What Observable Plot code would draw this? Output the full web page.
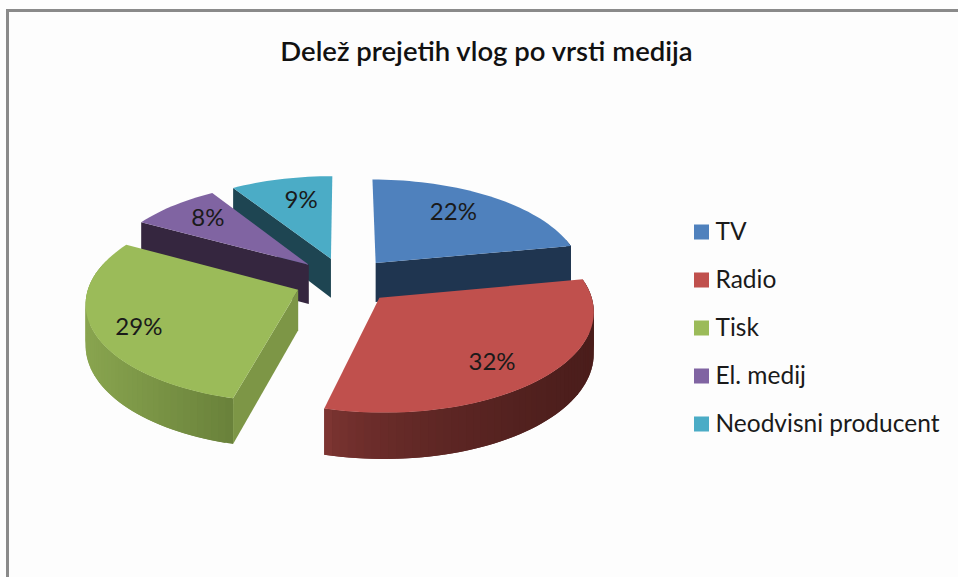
<!DOCTYPE html>
<html><head><meta charset="utf-8">
<script src="https://cdn.jsdelivr.net/npm/d3@7"></script>
<script src="https://cdn.jsdelivr.net/npm/@observablehq/plot@0.6"></script>
<style>
html,body{margin:0;padding:0;background:#fdfdfd;overflow:hidden}
svg{display:block}
</style></head><body><div id="chart"></div>
<script>
const titleText = "Delež prejetih vlog po vrsti medija";
const categories = ["TV", "Radio", "Tisk", "El. medij", "Neodvisni producent"];
const shares = [22, 32, 29, 8, 9];
const topColors = ["#4f81bd", "#c0504d", "#9bbb59", "#8064a2", "#4bacc6"];
const wallColors = ["#1f3550", "#4a1d1b", "#7d9646", "#35263f", "#1e4552"];
const rimLeft = ["#1f3550", "#7d3532", "#89a54f", "#35263f", "#1e4552"];
const rimRight = ["#1f3550", "#4a1d1b", "#6a823b", "#35263f", "#1e4552"];
const drawOrder = [4, 3, 0, 2, 1];

// view of the tilted, exploded pie
const view = {cx: 344, cy: 280, rx: 208, ry: 97, persp: 0.117, explode: 0.24, depth: 40};
const labelView = {reach: 0.7, nudgeX: [-6, 2, -18, -4, 6], nudgeY: [-3, 10, 9, -4, -1]};
const project = (X, Z, drop = 0) => {
  const k = 1 / (1 + view.persp * Z);
  return {x: view.cx + view.rx * X * k, y: view.cy - view.ry * Z * k + drop * k};
};

const total = d3.sum(shares);
let run = 0;
const slices = shares.map((v, i) => {
  const a0 = run / total * 2 * Math.PI; run += v;
  const a1 = run / total * 2 * Math.PI;
  const mid = (a0 + a1) / 2;
  return {i, a0, a1, mid, ax: view.explode * Math.sin(mid), az: view.explode * Math.cos(mid)};
});

const polys = []; let pid = 0;
const addPoly = (pts, fill) => { const id = pid++; pts.forEach(p => polys.push({id, x: p.x, y: p.y, fill})); };
for (const oi of drawOrder) {
  const s = slices[oi];
  const n = Math.max(8, Math.round((s.a1 - s.a0) * 30));
  const ang = d3.range(n + 1).map(j => s.a0 + (s.a1 - s.a0) * j / n);
  const rimAt = (a, d = 0) => project(s.ax + Math.sin(a), s.az + Math.cos(a), d);
  const apex = d => project(s.ax, s.az, d);
  // outer wall (front part only), shaded left to right across the slice
  const front = d3.range(n).filter(j => Math.cos(ang[j]) < 0.25 || Math.cos(ang[j + 1]) < 0.25);
  const xs = front.map(j => rimAt(ang[j]).x);
  const [xa, xb] = xs.length ? d3.extent(xs) : [0, 1];
  const shade = d3.interpolateRgb(rimLeft[oi], rimRight[oi]);
  // strips overlap their neighbour so no seams show
  for (const j of front) {
    const t = Math.min(1, Math.max(0, (rimAt(ang[j]).x - xa) / (xb - xa)));
    const k = Math.min(n, j + 2);
    addPoly([rimAt(ang[j]), rimAt(ang[k]), rimAt(ang[k], view.depth), rimAt(ang[j], view.depth)],
      shade(oi === 1 ? Math.pow(t, 0.6) : t));
  }
  // cut walls, only the ones that face the viewer
  if (Math.sin(s.a0) < -1e-6) addPoly([apex(0), rimAt(s.a0), rimAt(s.a0, view.depth), apex(view.depth)], wallColors[oi]);
  if (Math.sin(s.a1) > 1e-6) addPoly([apex(0), rimAt(s.a1), rimAt(s.a1, view.depth), apex(view.depth)], wallColors[oi]);
  // top face
  addPoly([apex(0), ...ang.map(a => rimAt(a))], topColors[oi]);
}

const pctLabels = slices.map(s => {
  const r = view.explode + labelView.reach;
  const p = project(r * Math.sin(s.mid), r * Math.cos(s.mid));
  return {x: p.x + labelView.nudgeX[s.i], y: p.y + labelView.nudgeY[s.i], text: shares[s.i] + "%"};
});
const legendRows = categories.map((c, i) => ({c, i, fill: topColors[i], y: 232 + i * 48}));
const font = "Lato, 'Open Sans', sans-serif";

const chart = Plot.plot({
  width: 958, height: 577, margin: 0,
  style: {background: "transparent", fontFamily: font},
  x: {domain: [0, 958], range: [0, 958], axis: null},
  y: {domain: [0, 577], range: [0, 577], axis: null},
  color: {type: "identity"},
  marks: [
    Plot.ruleY([10], {x1: 6, x2: 958, stroke: "#8a8a8a", strokeWidth: 3}),
    Plot.ruleX([7], {y1: 9, y2: 577, stroke: "#8a8a8a", strokeWidth: 3}),
    Plot.text([titleText], {x: [486], y: [52], text: d => d, fontSize: 27.5, fontWeight: 600, fill: "#111"}),
    Plot.line(polys, {x: "x", y: "y", z: "id", fill: "fill", curve: "linear-closed", stroke: "none"}),
    Plot.text(pctLabels, {x: "x", y: "y", text: "text", fontSize: 24, fill: "#1a1a1a"}),
    Plot.rect(legendRows, {x1: () => 694, x2: () => 709, y1: d => d.y - 7.5, y2: d => d.y + 7.5, fill: "fill"}),
    Plot.text(legendRows, {x: () => 715, y: "y", text: "c", textAnchor: "start", fontSize: 24.5, fill: "#1a1a1a"})
  ]
});
document.getElementById("chart").append(chart);
</script></body></html>
